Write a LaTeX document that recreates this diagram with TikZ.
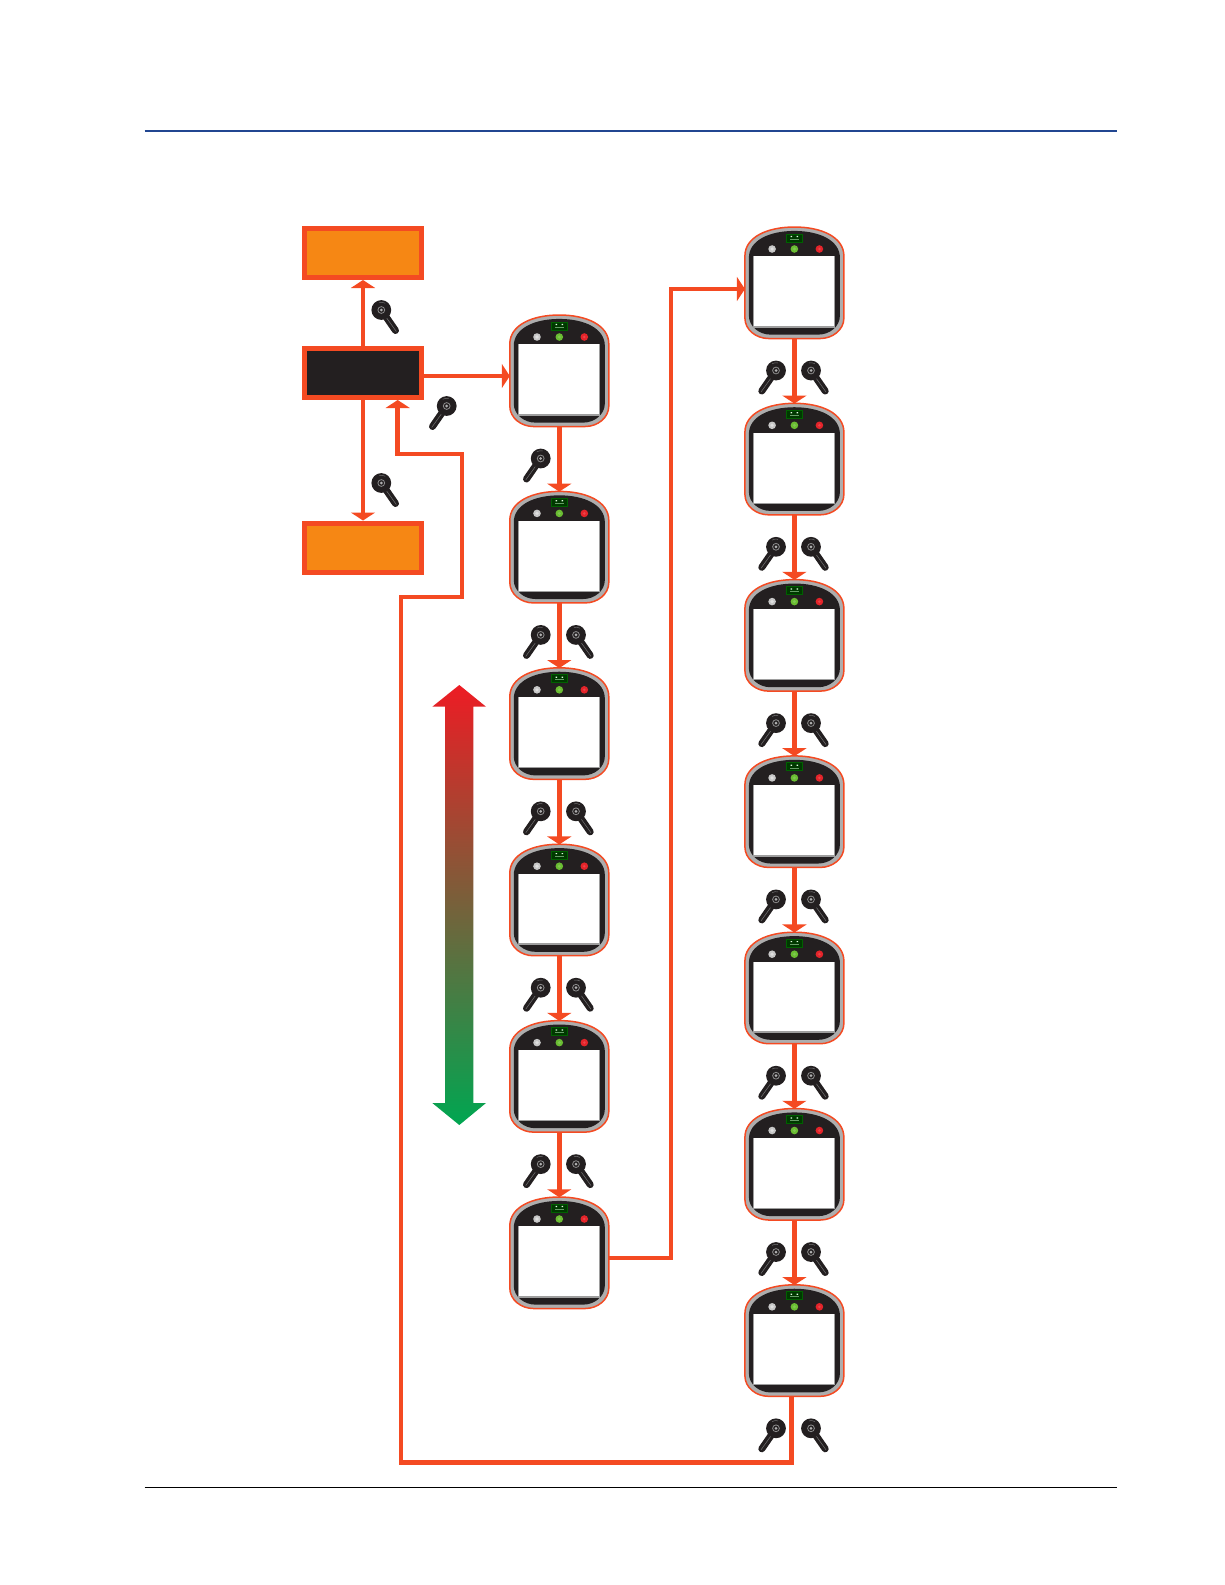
\documentclass[tikz,border=0pt]{standalone}
\usetikzlibrary{arrows.meta}
\definecolor{flowred}{RGB}{244,74,34}
\definecolor{boxorange}{RGB}{246,135,20}
\definecolor{panelblack}{RGB}{35,31,32}
\definecolor{rulblue}{RGB}{33,70,145}
\definecolor{rangered}{RGB}{237,28,36}
\definecolor{rangegreen}{RGB}{0,166,81}
\definecolor{lampgreen}{RGB}{106,189,50}
\definecolor{lampred}{RGB}{228,36,42}
\newcommand{\pendantpath}{(-49.5,-27) .. controls (-49.5,-46) and (-27,-56) .. (0,-56) .. controls (27,-56) and (49.5,-46) .. (49.5,-27) -- (49.5,35) .. controls (49.5,47) and (38,55.5) .. (26,55.5) -- (-26,55.5) .. controls (-38,55.5) and (-49.5,47) .. (-49.5,35) -- cycle}
\tikzset{
  flow/.style={line width=4.7pt, draw=flowred, -{Triangle[length=8pt,width=24pt]}},
  statebox/.style={draw=flowred, line width=5pt, minimum width=117pt, minimum height=49pt, inner sep=0pt},
  pendantbox/.style={minimum width=99pt, minimum height=111.5pt, inner sep=0pt, outer sep=0pt},
  pendant/.pic={
    \draw[draw=flowred, fill=black!32, line width=1.5pt] \pendantpath;
    \fill[panelblack, xscale=.92, yscale=.93] \pendantpath;
    % screen with its grey edge
    \fill[black!38] (-41.6,-26.7) rectangle (41,44.6);
    \fill[white] (-40.2,-26.7) rectangle (40,43.2);
    % lamps
    \fill[black!22] (-22.3,-34) circle (3.8);
    \fill[black!12] (-22.3,-34) circle (1.8);
    \fill[lampgreen] (0,-34) circle (3.8);
    \fill[lampgreen!85!white] (0,-34) circle (1.6);
    \fill[lampred] (25,-34) circle (3.8);
    \fill[lampred!85!white] (25,-34) circle (1.4);
    % display
    \draw[fill=green!22!black, draw=green!38!black, line width=1pt] (-8,-49) rectangle (8,-41);
    \fill[green!12!white] (-3.8,-47.2) rectangle (-2.2,-46) (2.2,-47.2) rectangle (3.8,-46);
    \fill[green!35!black!60!white] (-4.5,-44.4) rectangle (4.5,-43.5);
  },
  dial/.pic={
    \draw[panelblack, line width=7pt, line cap=round] (0,0) -- (14.2,20.5);
    \draw[black!55, line width=.5pt] (2.5,4) -- (15,21.5);
    \fill[panelblack] (0,0) circle (9.9);
    \draw[black!45, line width=.8pt] (0,0) circle (3.4);
    \fill[black!30] (0,0) circle (1.5);
    \draw[black!55, line width=.5pt] (-2,-7.5) arc (255:300:7.8);
  },
}
\begin{document}
\begin{tikzpicture}[x=1pt,y=-1pt]
\useasboundingbox (0,0) rectangle (1225,1585);

\draw[rulblue, line width=2pt] (144.7,131) -- (1117,131);
\draw[black, line width=1.7pt] (144.7,1487.5) -- (1117,1487.5);

% left boxes
\node[statebox, fill=boxorange] (upper) at (363,253) {};
\node[statebox, fill=panelblack] (mode) at (363,373) {};
\node[statebox, fill=boxorange] (lower) at (363,547.5) {};

% pendants, first column then second
\foreach \n in {0,...,5}
{
  \node[pendantbox] (p\n) at (559.3,371+176.4*\n) {};
  \pic at (p\n) {pendant};
}
\foreach \n in {0,...,6}
{
  \node[pendantbox] (q\n) at (794.4,283+176.3*\n) {};
  \pic at (q\n) {pendant};
}

% dials
\pic at (381.3,310) {dial};
\pic at (381.3,483) {dial};
\pic[xscale=-1] at (446.7,406) {dial};
\pic[xscale=-1] at (540.7,458.5) {dial};
\foreach \n in {1,...,4}
{
  \pic[xscale=-1] at (540.7,458.5+176.4*\n) {dial};
  \pic at (576,458.5+176.4*\n) {dial};
}
\foreach \n in {0,...,6}
{
  \pic[xscale=-1] at (776,370.5+176.3*\n) {dial};
  \pic at (811,370.5+176.3*\n) {dial};
}

% connectors
\draw[flow] (mode.north) -- (upper.south);
\draw[flow] (mode.south) -- (lower.north);
\draw[flow] ([yshift=-3pt]mode.east) -- ([yshift=-5pt]p0.west);

\foreach \a/\b in {0/1,1/2,2/3,3/4,4/5}
  \draw[flow] (p\a.south) -- (p\b.north);
\foreach \a/\b in {0/1,1/2,2/3,3/4,4/5,5/6}
  \draw[flow] (q\a.south) -- (q\b.north);

\coordinate (bend) at (671,289);
\draw[flow] ([yshift=-5pt]p5.east) -| (bend) -- ([yshift=-6pt]q0.west);

\coordinate (ret1) at (401,1462.5);
\coordinate (ret2) at (462,597);
\coordinate (ret3) at (397.7,454);
\draw[flow] ([xshift=-3pt]q6.south) |- (ret1) |- (ret2) |- (ret3) -- (ret3 |- mode.south);

% range arrow
\shade[top color=rangered, bottom color=rangegreen]
  (459.3,685) -- (486,706.7) -- (473.3,706.7) -- (473.3,1103) -- (486,1103)
  -- (459.3,1125) -- (432.3,1103) -- (445,1103) -- (445,706.7) -- (432.3,706.7) -- cycle;

\end{tikzpicture}
\end{document}
